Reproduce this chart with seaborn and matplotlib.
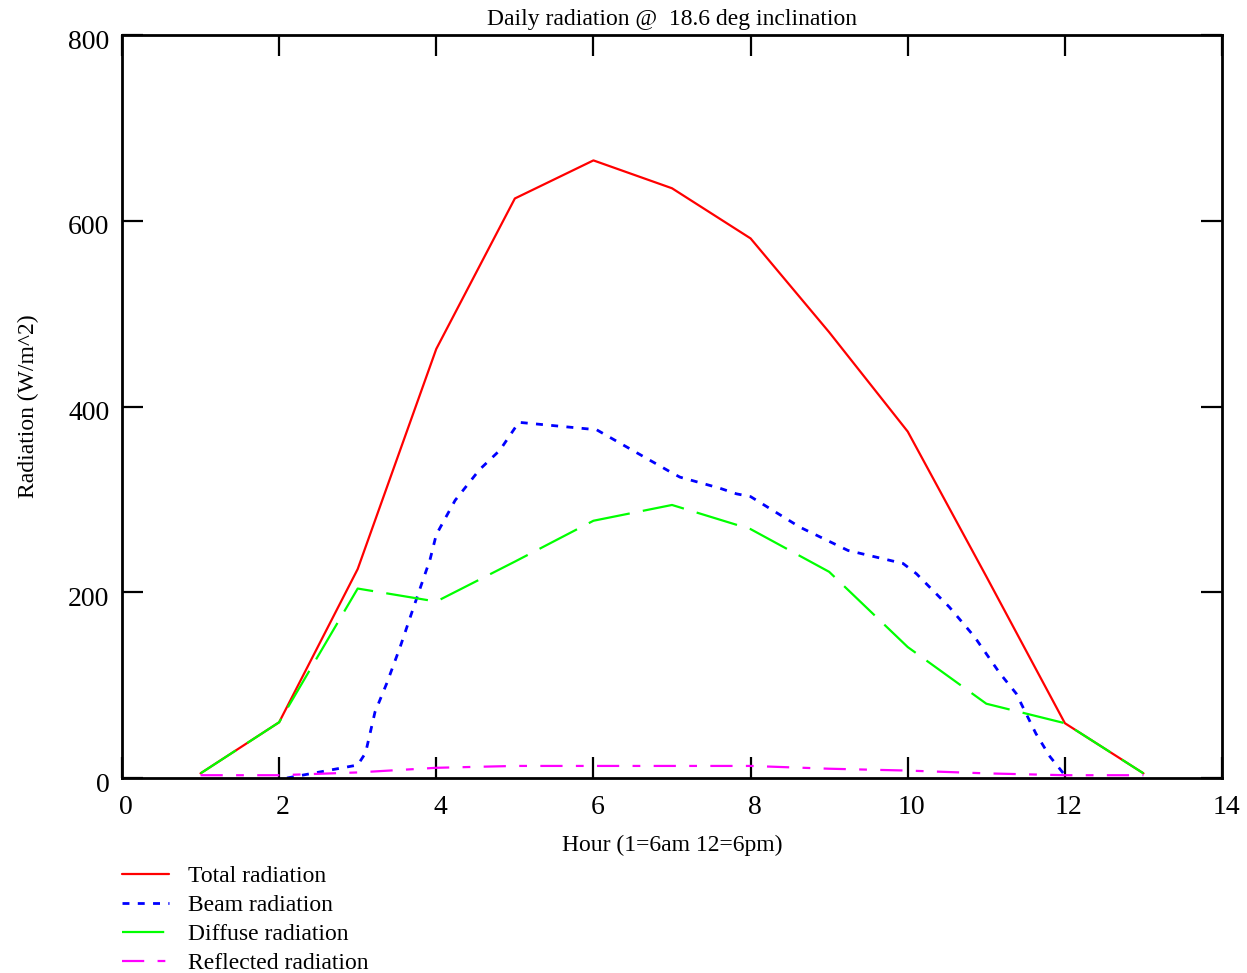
import matplotlib
matplotlib.use("Agg")
import matplotlib.pyplot as plt
import matplotlib.transforms as mtransforms
import numpy as np
import seaborn as sns

# hours (1=6am, 12=6pm)
hours = [1, 2, 3, 4, 5, 6, 7, 8, 9, 10, 11, 12, 13]
total = [5, 60, 225, 462, 624, 665, 635, 581, 480, 373, 217, 59, 5]
diffuse = [5, 60, 204, 190, 233, 277, 294, 268, 222, 141, 80, 59, 5]
reflected = [3, 3, 6, 11, 13, 13, 13, 13, 10, 8, 5, 3, 3]

# beam radiation is read at a finer step
beam_hours = [2.1, 3.0, 3.1, 3.22, 3.37, 3.54, 3.7, 3.83, 3.92, 4.0, 4.24, 4.55,
              4.81, 5.05, 6.04, 6.97, 7.1, 7.61, 7.82, 8.0, 8.63, 9.24, 9.94,
              10.11, 10.53, 10.85, 11.17, 11.38, 11.63, 11.81, 12.0]
beam = [0, 14, 27, 71, 102, 141, 181, 213, 235, 262, 299, 332,
        353, 383, 375, 330, 324, 312, 306, 303, 270, 245, 231,
        220, 184, 152, 113, 91, 48, 23, 3]

labels = ["Total radiation", "Beam radiation", "Diffuse radiation", "Reflected radiation"]

sns.set_theme(style="ticks")
plt.rcParams['font.family'] = ['Liberation Serif', 'DejaVu Serif']
plt.rcParams['text.color'] = "black"
plt.rcParams['axes.labelcolor'] = "black"

fig, ax = plt.subplots(figsize=(12.47, 9.73), dpi=100)
fig.subplots_adjust(left=0.0978, right=0.980, top=0.964, bottom=0.2004)

lw = 1.6
sns.lineplot(x=hours, y=total, ax=ax, color="#ff0000", linewidth=lw, label=labels[0])
sns.lineplot(x=beam_hours, y=beam, ax=ax, color="#0000ff", linewidth=lw + 0.4, label=labels[1])
ax.lines[-1].set_dashes((2.5, 3))
sns.lineplot(x=hours, y=diffuse, ax=ax, color="#00ff00", linewidth=lw, label=labels[2])
ax.lines[-1].set_dashes((19, 6))
sns.lineplot(x=hours, y=reflected, ax=ax, color="#ff00ff", linewidth=lw, label=labels[3])
ax.lines[-1].set_dashes((10, 6, 3.5, 6))

ax.set_xlim(0, 14)
ax.set_ylim(0, 800)
ax.set_xticks(np.arange(0, 15, 2))
ax.set_yticks(np.arange(0, 801, 200))

for s in ax.spines.values():
    s.set_linewidth(2)
    s.set_color("black")
ax.tick_params(direction="in", length=15, width=1.6, labelsize=20,
               top=True, right=True, colors="black")
ax.tick_params(axis="x", pad=12)
ax.tick_params(axis="y", pad=9)

# small nudges so the tick labels sit like the original
for t in ax.get_yticklabels():
    t.set_transform(t.get_transform() + mtransforms.ScaledTranslation(0, -0.04, fig.dpi_scale_trans))
for t in ax.get_xticklabels():
    t.set_transform(t.get_transform() + mtransforms.ScaledTranslation(0.04, 0, fig.dpi_scale_trans))

ax.set_title("Daily radiation @  18.6 deg inclination", fontsize=17, pad=7)
ax.set_xlabel("Hour (1=6am 12=6pm)", fontsize=17, labelpad=11)
ax.set_ylabel("Radiation (W/m^2)", fontsize=17, labelpad=21)

ax.legend_.remove()
fig.legend(ax.lines, labels, loc="upper left", bbox_to_anchor=(0.0978, 0.110),
           frameon=False, fontsize=17, handlelength=2.0, handletextpad=0.8,
           labelspacing=0.31, borderpad=0, borderaxespad=0)

fig.savefig("out.png", dpi=100)
